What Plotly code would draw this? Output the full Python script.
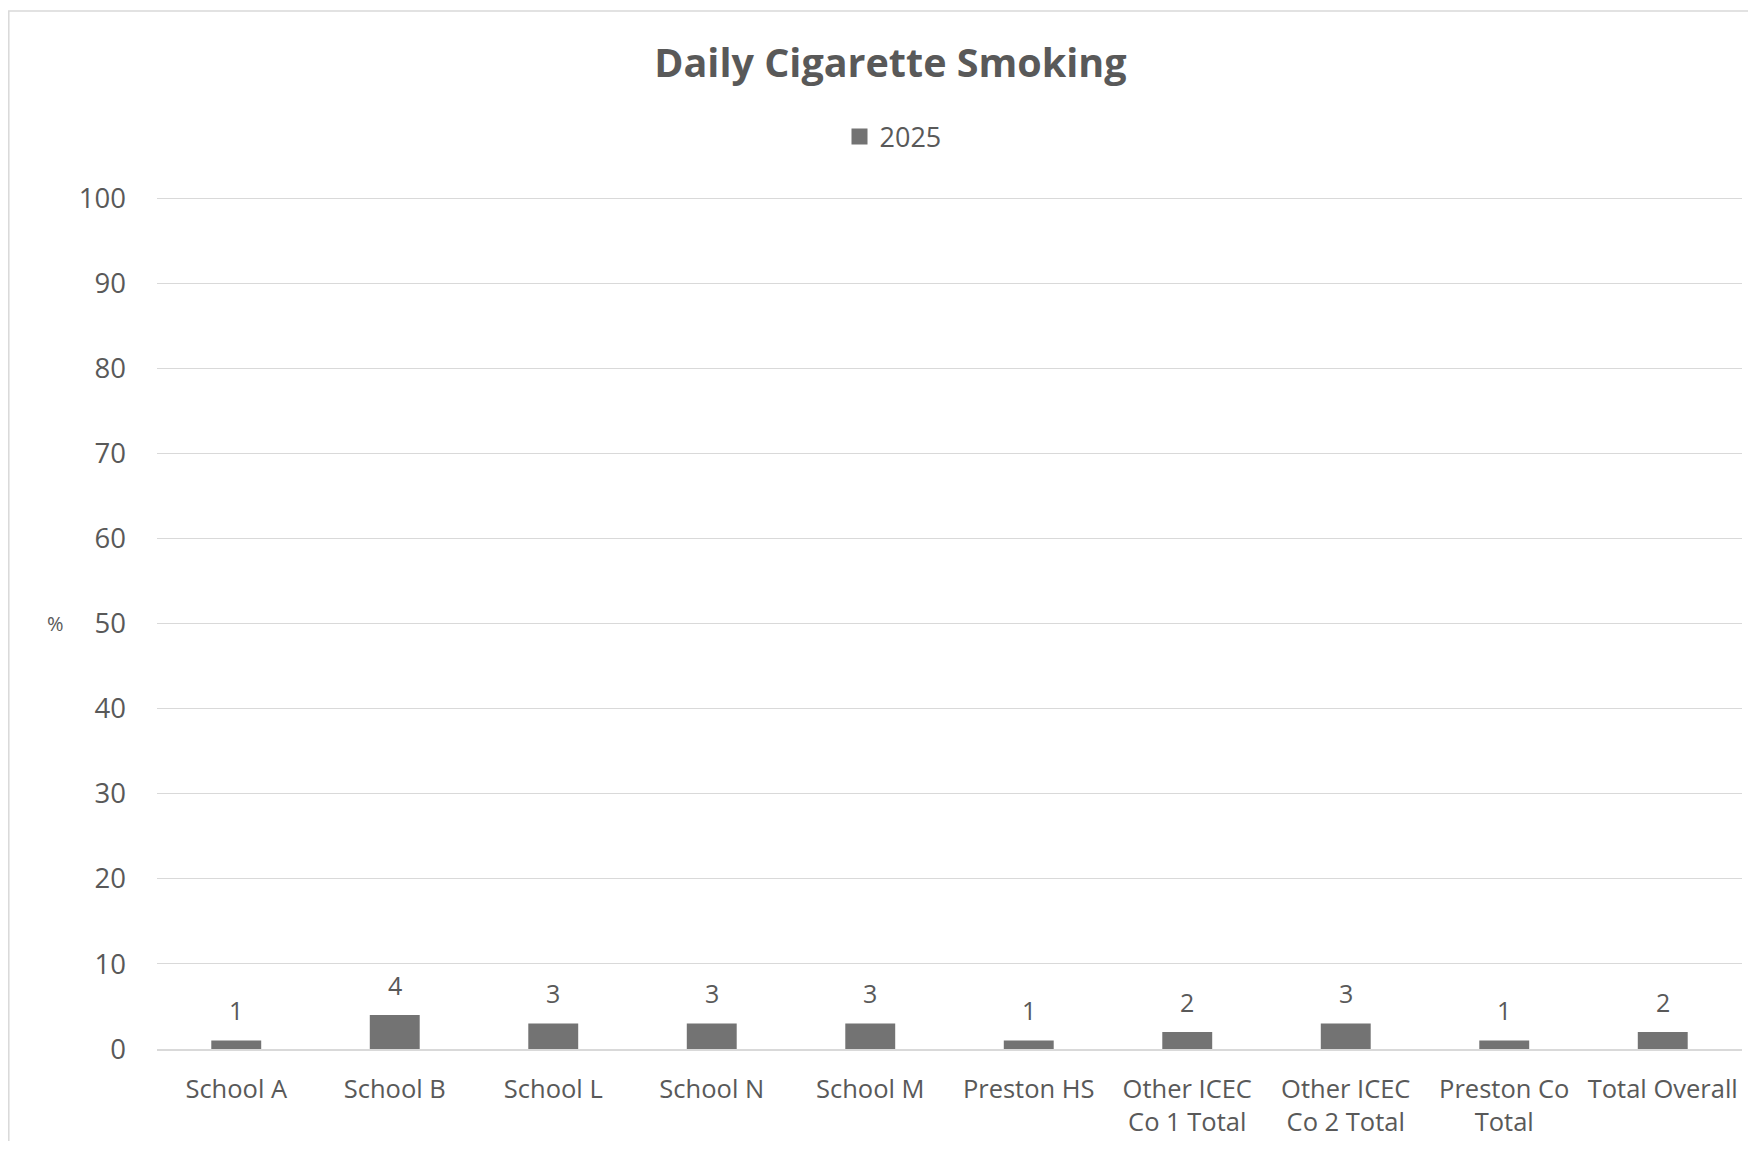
import plotly.graph_objects as go

categories = ["School A", "School B", "School L", "School N", "School M", "Preston HS",
              "Other ICEC<br>Co 1 Total", "Other ICEC<br>Co 2 Total", "Preston Co<br>Total", "Total Overall"]
values_2025 = [1, 4, 3, 3, 3, 1, 2, 3, 1, 2]
series_name = "2025"
y_ticks = [0, 10, 20, 30, 40, 50, 60, 70, 80, 90, 100]

FONT = "Open Sans"
TXT = "#595959"
BAR = "#737373"
GRID = "#d9d9d9"

# browser body margin is 8px; figure sized so that the page does not scroll
OFF = 8
W, H = 1756 - 2 * OFF, 1149 - 2 * OFF
L = 157 - OFF
T = 197 - OFF
R = W - (1742 - OFF)
B = H - (1049 - OFF)
pw, ph = W - L - R, H - T - B


def px_x(p):
    return (p - OFF - L) / pw


def px_y(p):
    return (H - B - (p - OFF)) / ph


fig = go.Figure()
fig.add_trace(go.Bar(
    x=categories, y=values_2025, name=series_name, showlegend=False,
    marker=dict(color=BAR, line=dict(width=0)),
))
fig.add_trace(go.Scatter(
    x=[None], y=[None], mode="markers", name=series_name,
    marker=dict(symbol="square", size=17, color=BAR),
))

annotations = [dict(x=c, y=v, xref="x", yref="y", text=str(v), showarrow=False,
                    yanchor="middle", yshift=30,
                    font=dict(family=FONT, size=25, color=TXT))
               for c, v in zip(categories, values_2025)]
annotations.append(dict(text="%", x=px_x(55), y=50, xref="paper", yref="y",
                        xanchor="center", yanchor="middle",
                        showarrow=False, font=dict(family=FONT, size=20, color=TXT)))

fig.update_layout(
    width=W, height=H,
    margin=dict(l=L, r=R, t=T, b=B, autoexpand=False),
    paper_bgcolor="white", plot_bgcolor="white",
    bargap=0.685,
    title=dict(text="<b>Daily Cigarette Smoking</b>", x=px_x(795 * 1.12), xref="paper",
               xanchor="center", y=1 - (63 - OFF) / H, yanchor="middle",
               font=dict(family=FONT, size=39.5, color=TXT)),
    showlegend=True,
    legend=dict(orientation="h", x=px_x(893), xanchor="center", xref="paper",
                y=px_y(137), yanchor="middle",
                font=dict(family=FONT, size=27, color=TXT),
                itemwidth=30),
    xaxis=dict(showgrid=False, showline=True, linecolor=GRID, linewidth=2,
               ticks="outside", ticklen=16, tickcolor="rgba(0,0,0,0)",
               tickfont=dict(family=FONT, size=25.5, color=TXT)),
    yaxis=dict(range=[0, 100.15], tickvals=y_ticks, showgrid=True, gridcolor=GRID, gridwidth=1.3,
               zeroline=False, showline=False, ticklabelstandoff=30,
               tickfont=dict(family=FONT, size=27.5, color=TXT)),
    annotations=annotations,
    shapes=[dict(type="rect", xref="paper", yref="paper",
                 x0=px_x(8.8), x1=px_x(1770), y0=px_y(1160), y1=px_y(11),
                 line=dict(color=GRID, width=1.5), fillcolor="rgba(0,0,0,0)", layer="below")],
)

fig.write_html("out.html")
